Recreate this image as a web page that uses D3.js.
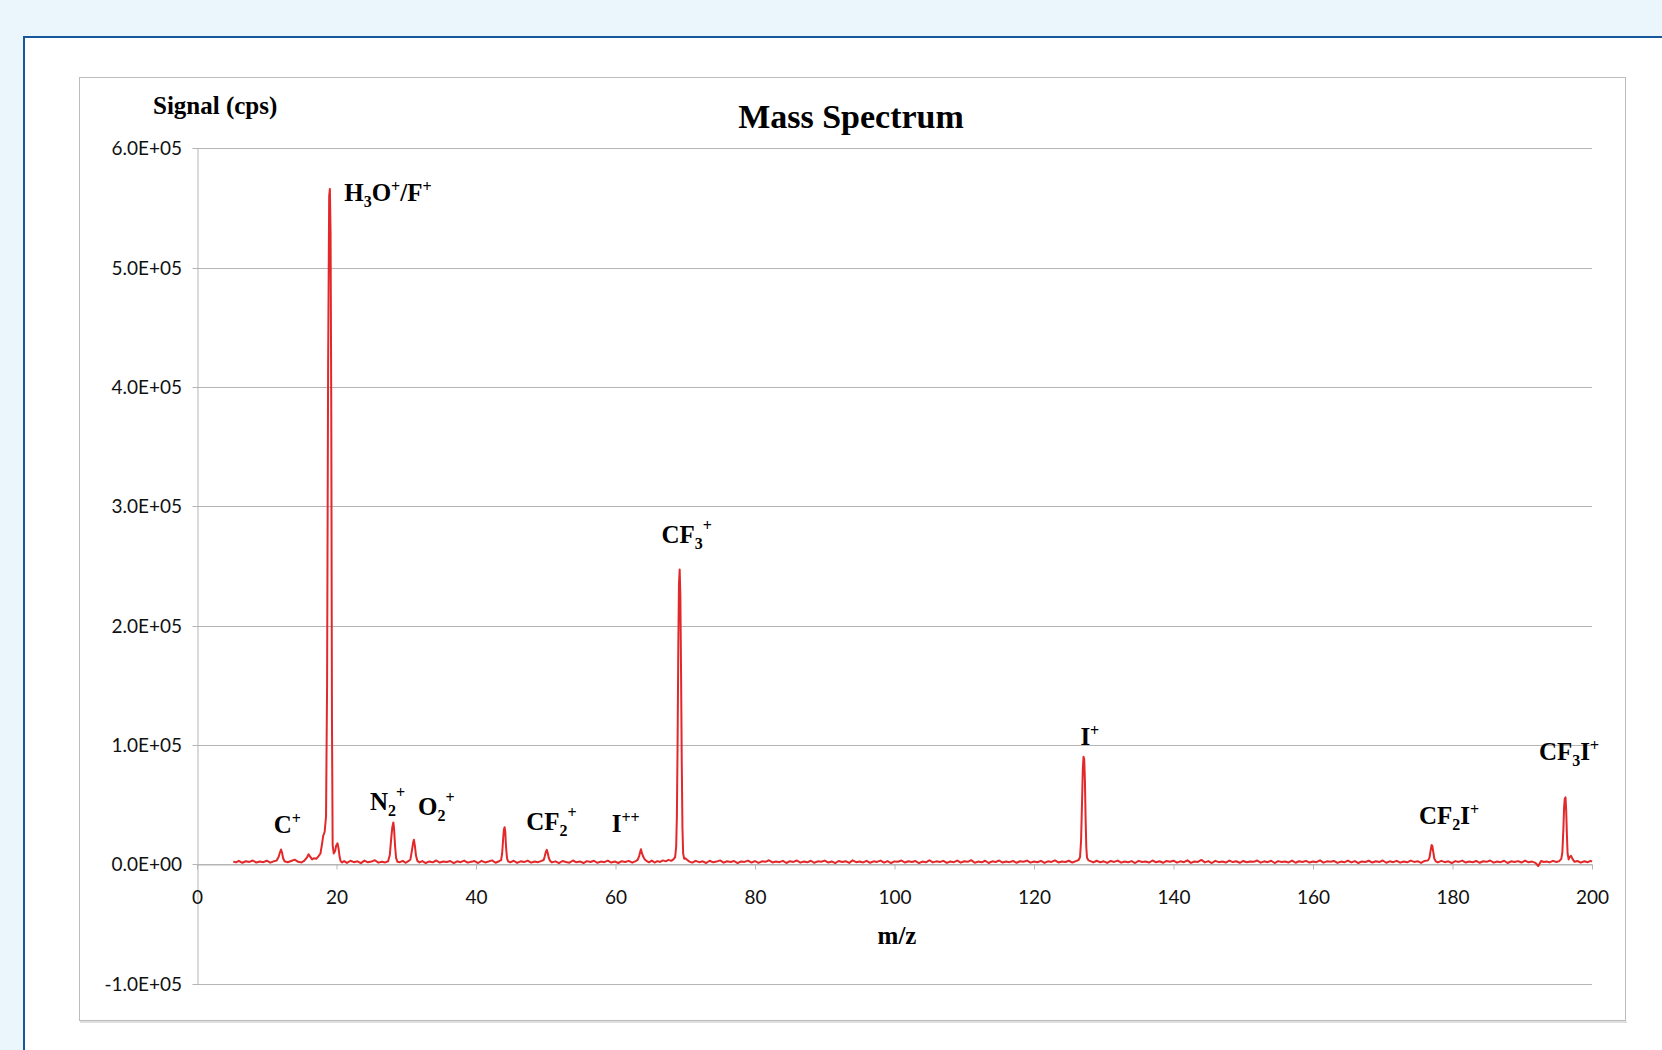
<!DOCTYPE html>
<html>
<head>
<meta charset="utf-8">
<script src="https://cdn.jsdelivr.net/npm/d3@7"></script>
<style>
html,body{margin:0;padding:0;background:#eaf6fc;overflow:hidden;}
svg{display:block;}
</style>
</head>
<body>
<svg id="chart" width="1662" height="1050"></svg>
<script>
// ---------------- DATA ----------------
const chartTitle = "Mass Spectrum";
const xAxisTitle = "m/z";
const yAxisTitle = "Signal (cps)";
const xTicks = [0, 20, 40, 60, 80, 100, 120, 140, 160, 180, 200];
const yTicks = [-100000, 0, 100000, 200000, 300000, 400000, 500000, 600000];
const yTickLabels = ["-1.0E+05", "0.0E+00", "1.0E+05", "2.0E+05", "3.0E+05", "4.0E+05", "5.0E+05", "6.0E+05"];

// [m/z, signal (cps)]
const spectrum = [
 [5.2,2200],[5.6,1500],[6.0,2800],[6.5,1200],[7.0,2500],[7.5,1900],[8.0,3100],[8.5,1400],[9.0,2300],[9.5,1700],
 [10.0,2900],[10.5,1300],[11.0,2400],[11.4,3000],[11.7,6000],[11.9,10000],[12.05,12300],[12.2,9500],[12.35,5000],[12.55,2500],
 [13.0,1600],[13.5,2700],[14.0,3800],[14.5,2000],[15.0,1500],[15.4,3000],[15.8,6000],[16.0,8400],[16.2,6500],[16.5,4000],
 [16.8,5000],[17.1,4500],[17.4,6500],[17.7,9000],[17.9,16000],[18.1,24000],[18.3,27000],[18.5,40000],[18.65,150000],[18.8,420000],
 [18.95,560000],[19.05,566000],[19.15,530000],[19.25,380000],[19.35,120000],[19.45,16000],[19.6,9000],[19.8,11000],[19.95,15500],[20.15,17500],
 [20.3,13000],[20.45,6000],[20.6,2500],[20.8,1500],[21.1,2600],[21.5,1100],[22.0,2900],[22.5,1700],[23.0,2400],[23.5,900],
 [24.0,3000],[24.5,1600],[25.0,2200],[25.5,3300],[26.0,1300],[26.5,2100],[27.0,1500],[27.4,2500],[27.65,8000],[27.85,22000],
 [28.0,31000],[28.15,35000],[28.25,30000],[28.4,15000],[28.55,5000],[28.75,2000],[29.1,1700],[29.5,2800],[29.9,1200],[30.3,2500],
 [30.6,4000],[30.8,11000],[31.0,18500],[31.1,20500],[31.25,15000],[31.4,7000],[31.6,2800],[31.9,1500],[32.3,2600],[32.8,1000],
 [33.3,2300],[33.8,1600],[34.3,3100],[34.8,1400],[35.3,2200],[35.8,1800],[36.3,2700],[36.8,900],[37.3,2400],[37.8,1700],
 [38.3,3000],[38.8,1300],[39.3,2100],[39.8,2600],[40.3,1000],[40.8,2800],[41.3,1500],[41.8,2300],[42.3,3200],[42.8,1200],
 [43.3,2500],[43.6,3500],[43.75,9000],[43.9,22000],[44.0,29000],[44.1,31000],[44.2,27000],[44.3,15000],[44.45,5000],[44.6,2400],
 [44.9,1600],[45.4,2900],[45.9,1100],[46.4,2400],[46.9,1800],[47.4,3000],[47.9,1300],[48.4,2200],[48.9,1700],[49.4,2800],
 [49.7,3500],[49.85,6500],[50.0,10000],[50.15,12000],[50.3,9000],[50.45,5000],[50.65,2600],[50.9,1500],[51.4,2400],[51.9,900],
 [52.4,2700],[52.9,1900],[53.4,1300],[53.9,3100],[54.4,1600],[54.9,2300],[55.4,1000],[55.9,2600],[56.4,1800],[56.9,2900],
 [57.4,1200],[57.9,2200],[58.4,1700],[58.9,3000],[59.4,1400],[59.9,2300],[60.4,1000],[60.9,2500],[61.4,1900],[61.9,2800],
 [62.4,1300],[62.9,2600],[63.2,3800],[63.4,7000],[63.55,10500],[63.65,12500],[63.8,9000],[64.0,6000],[64.2,4000],[64.5,2500],
 [64.8,1600],[65.2,3000],[65.6,1400],[66.0,2600],[66.4,1900],[66.8,3200],[67.2,2400],[67.6,3600],[68.0,2800],[68.3,4000],
 [68.55,6000],[68.7,15000],[68.8,40000],[68.9,100000],[69.0,180000],[69.1,235000],[69.2,247000],[69.3,225000],[69.4,160000],[69.5,85000],
 [69.6,30000],[69.7,9000],[69.85,4500],[70.0,5000],[70.3,3500],[70.6,2200],[71.0,1300],[71.5,2800],[72.0,1700],[72.5,2400],
 [73.0,1000],[73.5,2900],[74.0,1600],[74.5,2200],[75.0,3200],[75.5,1300],[76.0,2500],[76.5,1800],[77.0,2700],[77.5,900],
 [78.0,2300],[78.5,1900],[79.0,3000],[79.5,1400],[80.0,2600],[80.5,1100],[81.0,2400],[81.5,2000],[82.0,3300],[82.5,1500],
 [83.0,2200],[83.5,1700],[84.0,2800],[84.5,1000],[85.0,2500],[85.5,1900],[86.0,3100],[86.5,1300],[87.0,2200],[87.5,1600],
 [88.0,2900],[88.5,1200],[89.0,2400],[89.5,2000],[90.0,3000],[90.5,1400],[91.0,2300],[91.5,900],[92.0,2700],[92.5,1800],
 [93.0,2500],[93.5,1100],[94.0,3200],[94.5,1700],[95.0,2200],[95.5,1500],[96.0,2800],[96.5,1200],[97.0,2400],[97.5,1900],
 [98.0,3000],[98.5,1300],[99.0,2600],[99.5,1000],[100.0,2300],[100.5,2100],[101.0,3100],[101.5,1400],[102.0,2500],[102.5,1800],
 [103.0,2700],[103.5,900],[104.0,2200],[104.5,1600],[105.0,3300],[105.5,1500],[106.0,2400],[106.5,1900],[107.0,2800],[107.5,1100],
 [108.0,2300],[108.5,1700],[109.0,3000],[109.5,1300],[110.0,2500],[110.5,2000],[111.0,3400],[111.5,1200],[112.0,2200],[112.5,1600],
 [113.0,2900],[113.5,1000],[114.0,2400],[114.5,1800],[115.0,3100],[115.5,1400],[116.0,2300],[116.5,1700],[117.0,2700],[117.5,1200],
 [118.0,2500],[118.5,2000],[119.0,3000],[119.5,1300],[120.0,2200],[120.5,1600],[121.0,2800],[121.5,1100],[122.0,2400],[122.5,1900],
 [123.0,3200],[123.5,1500],[124.0,2300],[124.5,1800],[125.0,2900],[125.5,1400],[126.0,2600],[126.4,3500],[126.6,6000],[126.75,20000],
 [126.9,55000],[127.0,80000],[127.1,90000],[127.2,88000],[127.3,70000],[127.4,38000],[127.5,14000],[127.6,5500],[127.8,3200],[128.1,2600],
 [128.5,1500],[129.0,2900],[129.5,1600],[130.0,2400],[130.5,1100],[131.0,2700],[131.5,1900],[132.0,3000],[132.5,1300],[133.0,2200],
 [133.5,1700],[134.0,2600],[134.5,1000],[135.0,2800],[135.5,1800],[136.0,2300],[136.5,1400],[137.0,3100],[137.5,1600],[138.0,2500],
 [138.5,1200],[139.0,2700],[139.5,2000],[140.0,2900],[140.5,1300],[141.0,2400],[141.5,1700],[142.0,3200],[142.5,1100],[143.0,2300],
 [143.5,1900],[144.0,3600],[144.5,1500],[145.0,2600],[145.5,1000],[146.0,2800],[146.5,1700],[147.0,2200],[147.5,1400],[148.0,3000],
 [148.5,1800],[149.0,2500],[149.5,1200],[150.0,2700],[150.5,1600],[151.0,2300],[151.5,2000],[152.0,3100],[152.5,1300],[153.0,2400],
 [153.5,1700],[154.0,2900],[154.5,1000],[155.0,2600],[155.5,1900],[156.0,2200],[156.5,1500],[157.0,3000],[157.5,1200],[158.0,2500],
 [158.5,1800],[159.0,2800],[159.5,1400],[160.0,2300],[160.5,1700],[161.0,3200],[161.5,1300],[162.0,2400],[162.5,2000],[163.0,2700],
 [163.5,1100],[164.0,2200],[164.5,1600],[165.0,3000],[165.5,1500],[166.0,2600],[166.5,1000],[167.0,2300],[167.5,1900],[168.0,2900],
 [168.5,1400],[169.0,2500],[169.5,1800],[170.0,3100],[170.5,1200],[171.0,2400],[171.5,1700],[172.0,2800],[172.5,1300],[173.0,2200],
 [173.5,1600],[174.0,3000],[174.5,1900],[175.0,2500],[175.5,1100],[176.0,2700],[176.5,3200],[176.7,5500],[176.85,11000],[177.0,16000],
 [177.1,15500],[177.25,10000],[177.4,4500],[177.6,2400],[177.9,1500],[178.4,2800],[178.9,1700],[179.4,2400],[179.9,1000],[180.4,2600],
 [180.9,1900],[181.4,3000],[181.9,1400],[182.4,2200],[182.9,1600],[183.4,2700],[183.9,1200],[184.4,2500],[184.9,2000],[185.4,3100],
 [185.9,1300],[186.4,2300],[186.9,1700],[187.4,2900],[187.9,1000],[188.4,2400],[188.9,1800],[189.4,2600],[189.9,1400],[190.4,3000],
 [190.9,1600],[191.4,2200],[191.9,1100],[192.3,-1500],[192.7,2700],[193.1,1900],[193.5,2300],[193.9,1500],[194.4,2800],[194.9,1800],
 [195.3,2600],[195.6,4500],[195.75,10000],[195.9,30000],[196.0,48000],[196.1,55000],[196.2,56000],[196.3,45000],[196.4,25000],[196.5,9000],
 [196.65,4000],[196.8,6000],[197.0,7000],[197.2,4500],[197.5,2000],[197.9,2700],[198.4,1300],[198.9,2500],[199.4,1700],[199.8,2800],
 [200.0,2200]
];

// peak annotations: text pieces (base / sub / sup) and anchor in data coordinates
const peakLabels = [
 {parts:[["H"],["3","sub"],["O"],["+","sup"],["/F"],["+","sup"]], mz:21.1, cps:556000},
 {parts:[["CF"],["3","sub"],["+","sup2"]], mz:66.6, cps:269000},
 {parts:[["C"],["+","sup"]], mz:11.0, cps:26200},
 {parts:[["N"],["2","sub"],["+","sup2"]], mz:24.8, cps:45300},
 {parts:[["O"],["2","sub"],["+","sup2"]], mz:31.7, cps:41100},
 {parts:[["CF"],["2","sub"],["+","sup2"]], mz:47.2, cps:28500},
 {parts:[["I"],["++","sup"]], mz:59.45, cps:27100},
 {parts:[["I"],["+","sup"]], mz:126.65, cps:100300},
 {parts:[["CF"],["2","sub"],["I"],["+","sup"]], mz:175.2, cps:34100},
 {parts:[["CF"],["3","sub"],["I"],["+","sup"]], mz:192.4, cps:87200}
];

// ---------------- DRAW ----------------
const svg = d3.select("#chart");
const W = 1662, H = 1050;

svg.append("rect").attr("width", W).attr("height", H).attr("fill", "#eaf6fc");
svg.append("rect").attr("x", 24).attr("y", 37).attr("width", 1700).attr("height", 1100)
  .attr("fill", "#ffffff").attr("stroke", "#17589c").attr("stroke-width", 2);
svg.append("rect").attr("x", 79.5).attr("y", 77.5).attr("width", 1546).attr("height", 943)
  .attr("fill", "#ffffff").attr("stroke", "#bcbcbc").attr("stroke-width", 1);
svg.append("line").attr("x1", 80).attr("x2", 1627).attr("y1", 1022).attr("y2", 1022)
  .attr("stroke", "#d4d4d4").attr("stroke-width", 1.5);

const x = d3.scaleLinear().domain([0, 200]).range([197, 1592]);
const y = d3.scaleLinear().domain([-100000, 600000]).range([983.5, 148.4]);

const gridColor = "#b5b5b5";
const tickFont = "Lato, 'Open Sans', sans-serif";
const serif = "'Liberation Serif', 'Times New Roman', serif";

// horizontal gridlines
svg.append("g").selectAll("line").data(yTicks).join("line")
  .attr("x1", 197).attr("x2", 1592)
  .attr("y1", d => Math.round(y(d)) + 0.5).attr("y2", d => Math.round(y(d)) + 0.5)
  .attr("stroke", gridColor).attr("stroke-width", 1);

// y axis
const yAxis = svg.append("g").attr("transform", "translate(197.5,0)")
  .call(d3.axisLeft(y).tickValues(yTicks).tickSize(5).tickSizeOuter(0)
    .tickFormat((d, i) => yTickLabels[i]));
yAxis.select(".domain").attr("stroke", gridColor);
yAxis.selectAll(".tick line").attr("stroke", gridColor);
yAxis.selectAll(".tick").attr("transform", d => `translate(0,${Math.round(y(d)) + 0.5})`);
yAxis.selectAll(".tick text").attr("x", -15.5).attr("dy", "0.36em")
  .style("font-family", tickFont).style("font-size", "19px").attr("fill", "#111");

// x axis at zero
const y0 = Math.round(y(0)) + 0.5;
const xAxis = svg.append("g").attr("transform", `translate(0,${y0})`)
  .call(d3.axisBottom(x).tickValues(xTicks).tickSize(5).tickSizeOuter(0).tickFormat(d3.format("d")));
xAxis.select(".domain").attr("stroke", gridColor);
xAxis.selectAll(".tick line").attr("stroke", gridColor);
xAxis.selectAll(".tick text").attr("y", 39).attr("dy", 0)
  .style("font-family", tickFont).style("font-size", "19px").attr("fill", "#111");

// spectrum line
const line = d3.line().x(d => x(d[0])).y(d => y(d[1]));
svg.append("path").datum(spectrum).attr("d", line)
  .attr("fill", "none").attr("stroke", "#e3282a").attr("stroke-width", 2)
  .attr("stroke-linejoin", "round");

// titles
svg.append("text").attr("x", 851).attr("y", 128).attr("text-anchor", "middle")
  .style("font-family", serif).style("font-weight", "bold").style("font-size", "34px")
  .attr("fill", "#000").text(chartTitle);
svg.append("text").attr("x", 153).attr("y", 114)
  .style("font-family", serif).style("font-weight", "bold").style("font-size", "25px")
  .attr("fill", "#000").text(yAxisTitle);
svg.append("text").attr("x", 897).attr("y", 944).attr("text-anchor", "middle")
  .style("font-family", serif).style("font-weight", "bold").style("font-size", "25px")
  .attr("fill", "#000").text(xAxisTitle);

// peak labels
const lg = svg.append("g").style("font-family", serif).style("font-weight", "bold").attr("fill", "#000");
peakLabels.forEach(lab => {
  const t = lg.append("text").attr("x", x(lab.mz)).attr("y", y(lab.cps)).style("font-size", "25px");
  let off = 0;
  lab.parts.forEach(p => {
    const kind = p[1] || "base";
    let target = 0, size = "25px";
    if (kind === "sub") { target = 6; size = "16px"; }
    else if (kind === "sup") { target = -9; size = "16px"; }
    else if (kind === "sup2") { target = -12; size = "16px"; }
    t.append("tspan").attr("dy", target - off).style("font-size", size).text(p[0]);
    off = target;
  });
});
</script>
</body>
</html>
